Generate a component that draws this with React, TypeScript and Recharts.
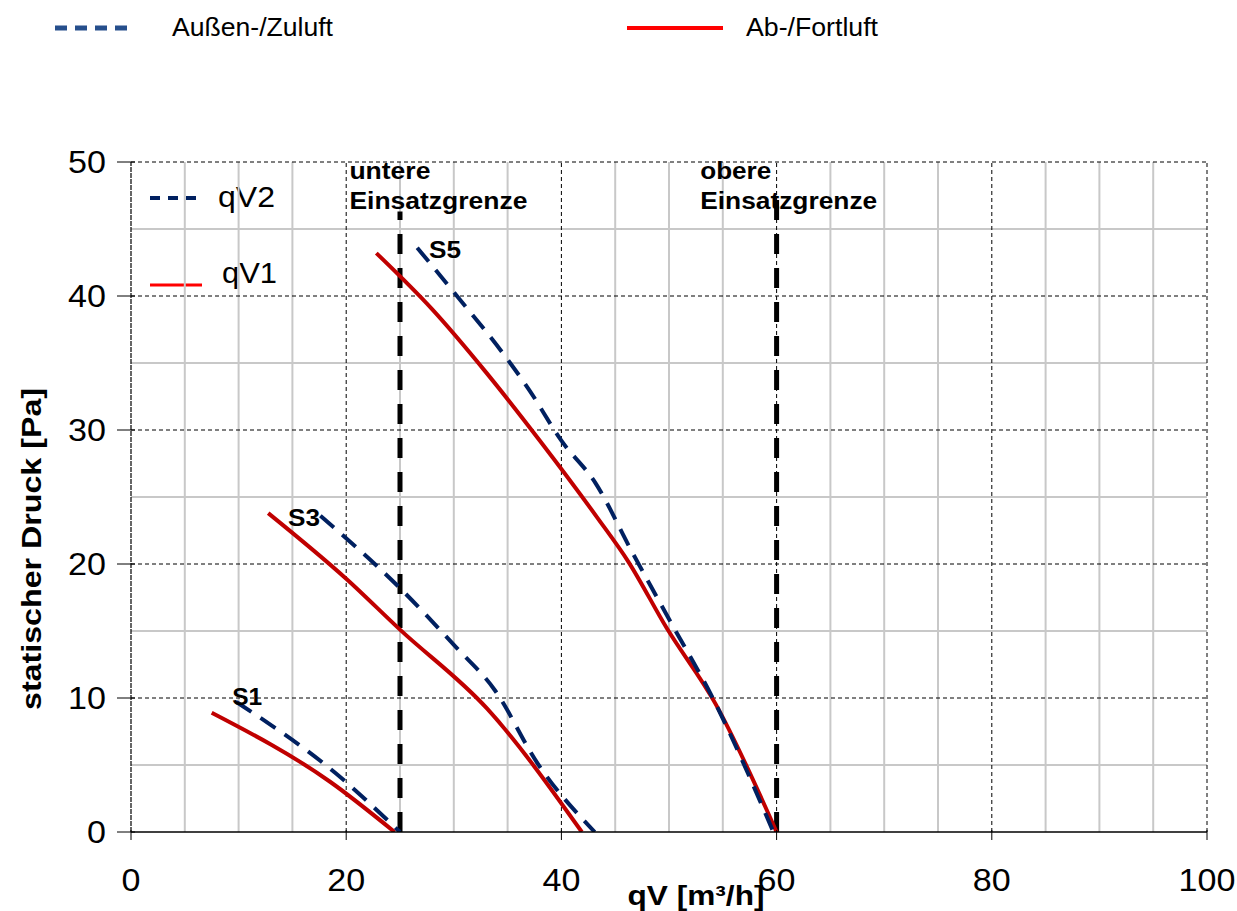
import React from 'react';
import { LineChart, Line, XAxis, YAxis, ReferenceLine, ReferenceDot, Customized } from 'recharts';

// ---- data ----
const xTicks = [0, 20, 40, 60, 80, 100];
const yTicks = [0, 10, 20, 30, 40, 50];
const xMinor = [5, 10, 15, 25, 30, 35, 45, 50, 55, 65, 70, 75, 85, 90, 95];
const yMinor = [5, 15, 25, 35, 45];

const s1Supply = [
  { x: 9.8, y: 9.7 },
  { x: 19.0, y: 4.4 },
  { x: 25.0, y: 0 },
];
const s1Exhaust = [
  { x: 7.5, y: 8.9 },
  { x: 18.5, y: 3.75 },
  { x: 24.5, y: 0 },
];
const s3Supply = [
  { x: 17.6, y: 23.6 },
  { x: 25.0, y: 18.2 },
  { x: 30.2, y: 13.8 },
  { x: 33.8, y: 10.6 },
  { x: 37.8, y: 5.1 },
  { x: 43.1, y: 0 },
];
const s3Exhaust = [
  { x: 12.75, y: 23.8 },
  { x: 20.0, y: 18.9 },
  { x: 25.0, y: 15.1 },
  { x: 33.1, y: 9.2 },
  { x: 41.9, y: 0 },
];
const s5Supply = [
  { x: 26.6, y: 43.6 },
  { x: 30.5, y: 39.8 },
  { x: 34.5, y: 35.8 },
  { x: 37.0, y: 33.0 },
  { x: 40.0, y: 29.2 },
  { x: 43.2, y: 26.0 },
  { x: 46.5, y: 21.0 },
  { x: 50.2, y: 15.6 },
  { x: 54.0, y: 10.1 },
  { x: 59.7, y: 0 },
];
const s5Exhaust = [
  { x: 22.8, y: 43.2 },
  { x: 28.0, y: 39.0 },
  { x: 33.0, y: 34.3 },
  { x: 38.0, y: 29.2 },
  { x: 43.3, y: 23.5 },
  { x: 46.2, y: 20.2 },
  { x: 49.8, y: 15.2 },
  { x: 54.3, y: 9.6 },
  { x: 60.0, y: 0 },
];

const limits = [
  { x: 25, top: 46.3, lines: ['untere', 'Einsatzgrenze'], widths: [81, 178], lx: 20.3, ly: 48.7 },
  { x: 60, top: 47.9, lines: ['obere', 'Einsatzgrenze'], widths: [71, 177], lx: 52.9, ly: 48.7 },
];
const stageLabels = [
  { name: 'S1', x: 9.4, y: 9.5, w: 30 },
  { name: 'S3', x: 14.6, y: 22.8, w: 32 },
  { name: 'S5', x: 27.7, y: 42.8, w: 32 },
];

const RED = '#C00000';
const NAVY = '#002060';
const FONT = '"Liberation Sans", Arial, sans-serif';
const TICK_FS = 31;
const CHAR_W = 0.556 * TICK_FS * 1.1;

const T = (p: any) => (
  <text
    x={p.x}
    y={p.y}
    fontSize={p.fs}
    fontWeight={p.bold ? 'bold' : 'normal'}
    textAnchor={p.anchor || 'start'}
    textLength={p.w}
    lengthAdjust="spacingAndGlyphs"
    fill="#000"
    fontFamily={FONT}
    transform={p.transform}
  >
    {p.children}
  </text>
);

const XTick = (props: any) => {
  const { x, y, payload } = props;
  const s = String(payload.value);
  return (
    <g>
      <line x1={x} y1={y - 10} x2={x} y2={y} stroke="#000" strokeWidth={1} />
      <T x={x} y={y + 51} fs={TICK_FS} anchor="middle" w={s.length * CHAR_W}>{s}</T>
    </g>
  );
};

const YTick = (props: any) => {
  const { x, y, payload } = props;
  const s = String(payload.value);
  return (
    <g>
      <line x1={x - 6} y1={y} x2={x + 12} y2={y} stroke="#000" strokeWidth={1} />
      <T x={x - 17} y={y + 11} fs={TICK_FS} anchor="end" w={s.length * CHAR_W}>{s}</T>
    </g>
  );
};

const Overlay = () => (
  <g>
    {/* top legend */}
    <line x1={55} y1={28} x2={127} y2={28} stroke="#264F8C" strokeWidth={5} strokeDasharray="12 8" />
    <T x={172} y={36} fs={26} w={161}>Außen-/Zuluft</T>
    <line x1={627} y1={28} x2={723} y2={28} stroke="#FF0000" strokeWidth={4} />
    <T x={746} y={36} fs={26} w={132}>Ab-/Fortluft</T>
    {/* inner legend */}
    <line x1={150} y1={198} x2={202} y2={198} stroke={NAVY} strokeWidth={4} strokeDasharray="10 8" />
    <T x={218} y={207} fs={29} w={57}>qV2</T>
    <line x1={150} y1={285} x2={202} y2={285} stroke="#FF0000" strokeWidth={3} />
    <T x={222} y={283} fs={29} w={55}>qV1</T>
    {/* axis titles */}
    <T x={0} y={0} transform="translate(41,549) rotate(-90)" anchor="middle" fs={28} bold w={322}>
      statischer Druck  [Pa]
    </T>
    <T x={696} y={905} anchor="middle" fs={27} bold w={137}>
      qV [m³/h]
    </T>
  </g>
);

export default function App() {
  return (
    <div style={{ position: 'absolute', left: 0, top: 0, width: 1237, height: 911, background: '#fff' }}>
      <LineChart
        width={1237}
        height={911}
        margin={{ top: 162, right: 30, bottom: 0, left: 0 }}
        style={{ fontFamily: FONT }}
      >
        <XAxis
          type="number"
          dataKey="x"
          domain={[0, 100]}
          ticks={xTicks}
          height={79}
          axisLine={{ stroke: '#000', strokeWidth: 1.5 }}
          tickLine={false}
          tick={<XTick />}
          allowDataOverflow
        />
        <YAxis
          type="number"
          dataKey="y"
          domain={[0, 50]}
          ticks={yTicks}
          width={131}
          axisLine={false}
          tickLine={false}
          tick={<YTick />}
          allowDataOverflow
        />
        {xMinor.map((v) => (
          <ReferenceLine key={'xm' + v} x={v} stroke="#C8C8C8" strokeWidth={2} />
        ))}
        {yMinor.map((v) => (
          <ReferenceLine key={'ym' + v} y={v} stroke="#C8C8C8" strokeWidth={2} />
        ))}
        {xTicks.slice(1).map((v) => (
          <ReferenceLine key={'xM' + v} x={v} stroke="#000" strokeWidth={1} strokeDasharray="4 3" />
        ))}
        {yTicks.slice(1).map((v) => (
          <ReferenceLine key={'yM' + v} y={v} stroke="#000" strokeWidth={1} strokeDasharray="4 3" />
        ))}
        <ReferenceLine x={0} stroke="#000" strokeWidth={1.2} strokeDasharray="5 1" />

        {limits.map((l) => (
          <ReferenceLine
            key={'lim' + l.x}
            segment={[{ x: l.x, y: 0 }, { x: l.x, y: l.top }]}
            stroke="#000"
            strokeWidth={5}
            strokeDasharray="20 14"
          />
        ))}

        <Line data={s1Exhaust} dataKey="y" type="monotone" stroke={RED} strokeWidth={4} dot={false} isAnimationActive={false} />
        <Line data={s3Exhaust} dataKey="y" type="monotone" stroke={RED} strokeWidth={4} dot={false} isAnimationActive={false} />
        <Line data={s5Exhaust} dataKey="y" type="monotone" stroke={RED} strokeWidth={4} dot={false} isAnimationActive={false} />
        <Line data={s1Supply} dataKey="y" type="monotone" stroke={NAVY} strokeWidth={4} strokeDasharray="18 11" dot={false} isAnimationActive={false} />
        <Line data={s3Supply} dataKey="y" type="monotone" stroke={NAVY} strokeWidth={4} strokeDasharray="18 11" dot={false} isAnimationActive={false} />
        <Line data={s5Supply} dataKey="y" type="monotone" stroke={NAVY} strokeWidth={4} strokeDasharray="18 11" dot={false} isAnimationActive={false} />

        {stageLabels.map((s) => (
          <ReferenceDot
            key={s.name}
            x={s.x}
            y={s.y}
            r={0}
            fill="none"
            stroke="none"
            label={(p: any) => (
              <T x={p.viewBox.x} y={p.viewBox.y} fs={23} bold w={s.w}>{s.name}</T>
            )}
          />
        ))}
        {limits.map((l) => (
          <ReferenceDot
            key={'lab' + l.x}
            x={l.lx}
            y={l.ly}
            r={0}
            fill="none"
            stroke="none"
            label={(p: any) => (
              <g>
                <T x={p.viewBox.x} y={p.viewBox.y} fs={23} bold w={l.widths[0]}>{l.lines[0]}</T>
                <T x={p.viewBox.x} y={p.viewBox.y + 30} fs={23} bold w={l.widths[1]}>{l.lines[1]}</T>
              </g>
            )}
          />
        ))}
        <Customized component={Overlay} />
      </LineChart>
    </div>
  );
}
